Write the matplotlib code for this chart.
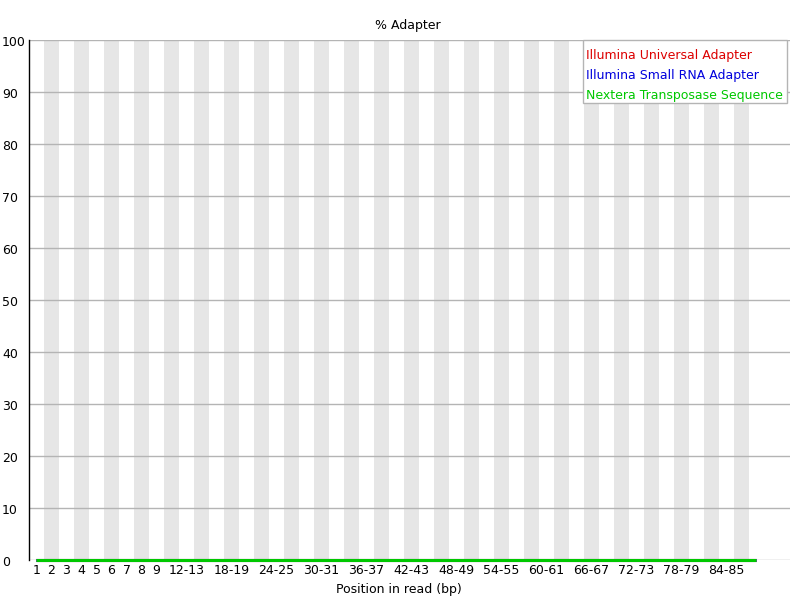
import matplotlib
matplotlib.use("Agg")
import matplotlib.pyplot as plt
import matplotlib.transforms as mtransforms
from matplotlib.patches import Rectangle

# ---- data ----
positions = [str(i) for i in range(1, 10)] + [f"{s}-{s+1}" for s in range(10, 89, 2)]
illumina_universal = [0.0] * len(positions)
illumina_small_rna = [0.0] * len(positions)
nextera_transposase = [0.0] * len(positions)
series_names = ["Illumina Universal Adapter", "Illumina Small RNA Adapter", "Nextera Transposase Sequence"]
series_colors = ["#dc0000", "#0000dc", "#00c800"]
y_ticks = list(range(0, 101, 10))

plt.rcParams['font.family'] = ['DejaVu Sans']
fig = plt.figure(figsize=(8, 6), dpi=100)
W, H = 800, 600
left_px, right_px, top_px, bot_px = 29, 790, 40, 560
ax = fig.add_axes([left_px / W, 1 - bot_px / H, (right_px - left_px) / W, (bot_px - top_px) / H])

n = len(positions)
bw = 15.0
xmax = (right_px - left_px) / bw - 0.5
ax.set_xlim(-0.5, xmax)
ax.set_ylim(0, 100)

# alternating stripes
for i in range(n):
    if i % 2 == 1:
        ax.axvspan(i - 0.5, i + 0.5, color="#e6e6e6", lw=0, zorder=0)

# horizontal grid
for y in y_ticks:
    ax.axhline(y, color="#b4b4b4", lw=1, zorder=1)

x = [i - 0.03 for i in range(n)]
for vals, c in zip([illumina_universal, illumina_small_rna, nextera_transposase], series_colors):
    ax.plot(x, vals, color=c, lw=2.2, zorder=3, solid_capstyle="butt", clip_on=False)

for s in ["top", "right", "bottom"]:
    ax.spines[s].set_visible(False)
ax.spines["left"].set_color("black")
ax.spines["left"].set_linewidth(1)

ax.set_yticks(y_ticks)
ax.set_yticklabels([str(v) for v in y_ticks], fontsize=9)
ax.tick_params(axis="y", length=0, pad=(left_px - 2) * 0.72)
shift = mtransforms.ScaledTranslation(0, -1.5 / 100, fig.dpi_scale_trans)
for lab in ax.get_yticklabels():
    lab.set_horizontalalignment("left")
    lab.set_transform(lab.get_transform() + shift)

shown = [i for i in range(n) if i < 9 or (i >= 10 and (i - 10) % 3 == 0 and i < n - 2)]
ax.set_xticks(shown)
ax.set_xticklabels([positions[i] for i in shown], fontsize=9)
ax.tick_params(axis="x", length=0, pad=3)

fig.text(408 / W, 1 - 25 / H, "% Adapter", ha="center", va="center", fontsize=9)
fig.text(399 / W, 1 - 590 / H, "Position in read (bp)", ha="center", va="center", fontsize=9)

# legend box
lx0, ly0, lx1, ly1 = 583, 40, 787, 103
fig.patches.append(Rectangle((lx0 / W, 1 - ly1 / H), (lx1 - lx0) / W, (ly1 - ly0) / H,
                             transform=fig.transFigure, facecolor="white", edgecolor="#b4b4b4",
                             lw=1, zorder=5))
for k, (name, c) in enumerate(zip(series_names, series_colors)):
    fig.text(586 / W, 1 - (55 + 20 * k) / H, name, color=c, fontsize=9, ha="left", va="center", zorder=6)

fig.savefig("out.png", dpi=100)
